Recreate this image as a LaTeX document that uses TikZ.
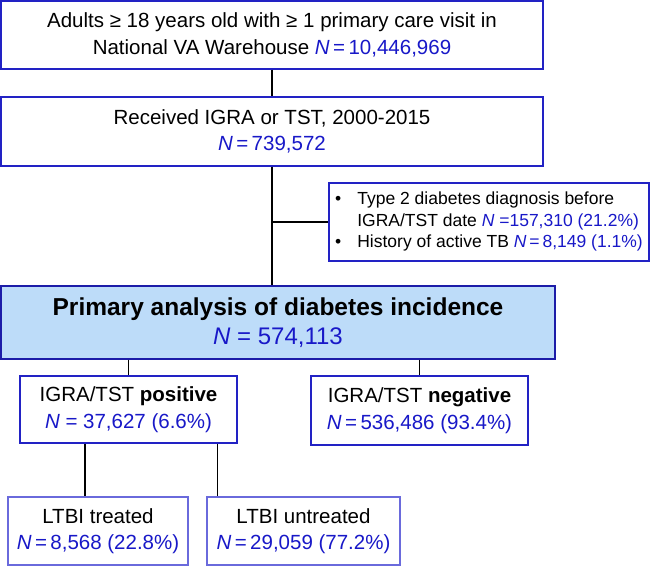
\documentclass[tikz,border=0pt]{standalone}
\usepackage{fontspec}
\setmainfont{Liberation Sans}
\usetikzlibrary{calc}
\definecolor{nblue}{HTML}{1818C8}
\definecolor{bordblue}{HTML}{2222C4}
\definecolor{darkbord}{HTML}{1C1CA8}
\definecolor{lightbord}{HTML}{6A6ADC}
\definecolor{fillblue}{HTML}{BDDCF9}
\newcommand{\NN}[1]{{\color{nblue}\textit{N}#1}}
\begin{document}
\begin{tikzpicture}[x=1pt,y=-1pt,
  box/.style={draw=bordblue,line width=1.4pt,fill=white,inner sep=0pt,align=center,
    font=\fontsize{20.5}{26.5}\selectfont},
  lowbox/.style={box,draw=lightbord},
  conn/.style={draw=black,line width=1.6pt}]
\useasboundingbox (0,0) rectangle (650,566);
\node[box,minimum width=542pt,minimum height=68pt] (b1) at (272,35)
  {Adults ≥ 18 years old with ≥ 1 primary care visit in\\National VA Warehouse \NN{\,=\,10,446,969}};
\node[box,minimum width=542pt,minimum height=69pt] (b2) at (272,131.5)
  {Received IGRA or TST, 2000-2015\\\NN{\,=\,739,572}};
\node[box,minimum width=320pt,minimum height=78pt,font=\fontsize{17.5}{21.5}\selectfont] (side) at (489,222)
  {\begin{tabular}{@{}l@{\hspace{16pt}}l@{}}
   \textbullet & Type 2 diabetes diagnosis before\\
   & IGRA/TST date \NN{ =157,310 (21.2\%)}\\
   \textbullet & History of active TB \NN{\,=\,8,149 (1.1\%)}
   \end{tabular}};
\node[box,draw=darkbord,fill=fillblue,minimum width=554pt,minimum height=73pt,font=\fontsize{24}{29.5}\selectfont] (b3) at (278,322.5)
  {{\fontsize{24.5}{29.5}\selectfont\textbf{Primary analysis of diabetes incidence}}\\\NN{ = 574,113}};
\node[box,minimum width=217pt,minimum height=67pt] (pos) at (128.5,409.5)
  {IGRA/TST \textbf{positive}\\\NN{ = 37,627 (6.6\%)}};
\node[box,minimum width=217pt,minimum height=69pt] (neg) at (419.5,410.5)
  {IGRA/TST \textbf{negative}\\\NN{\,=\,536,486 (93.4\%)}};
\node[lowbox,minimum width=180pt,minimum height=68pt] (trt) at (98,531)
  {LTBI treated\\\NN{\,=\,8,568 (22.8\%)}};
\node[lowbox,minimum width=193pt,minimum height=68pt] (unt) at (303.5,531)
  {LTBI untreated\\\NN{\,=\,29,059 (77.2\%)}};
\coordinate (pa) at ($(pos.south west)!0.30!(pos.south east)$);
\coordinate (pb) at ($(pos.south west)!0.908!(pos.south east)$);
\draw[conn] (b1.south) -- (b2.north);
\draw[conn] (b2.south) -- (b2.south |- b3.north);
\draw[conn] (b2.south |- side.west) -- (side.west);
\draw[conn] (pos.north |- b3.south) -- (pos.north);
\draw[conn] (neg.north |- b3.south) -- (neg.north);
\draw[conn] (pa) -- (pa |- trt.north);
\draw[conn] (pb) -- (pb |- unt.north);
\end{tikzpicture}
\end{document}
